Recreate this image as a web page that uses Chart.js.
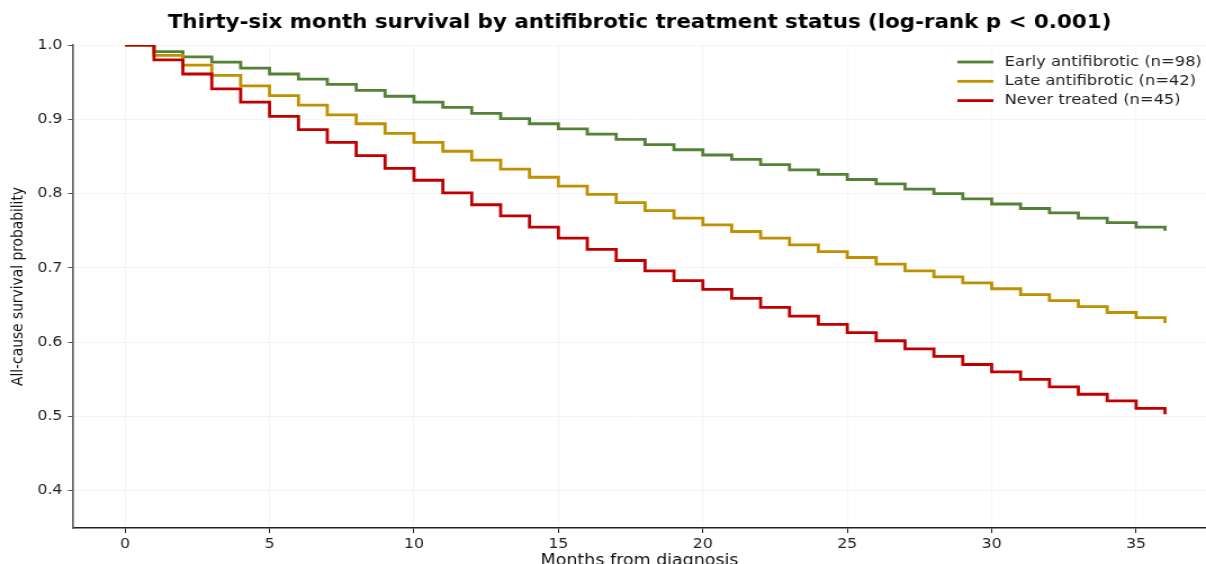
<!DOCTYPE html>
<html>
<head>
<meta charset="utf-8">
<script src="https://cdn.jsdelivr.net/npm/chart.js@4.4.1/dist/chart.umd.min.js"></script>
<style>
  html, body { margin: 0; padding: 0; background: #fff; overflow: hidden; }
  /* la figura original esta estirada en horizontal */
  #wrap { width: 1072px; height: 564px; transform: scaleX(1.125); transform-origin: 0 0; }
</style>
</head>
<body>
<div id="wrap"><canvas id="kmChart" width="1072" height="564"></canvas></div>
<script>
/* Datos */
const meses = [0, 1, 2, 3, 4, 5, 6, 7, 8, 9, 10, 11, 12, 13, 14, 15, 16, 17, 18,
  19, 20, 21, 22, 23, 24, 25, 26, 27, 28, 29, 30, 31, 32, 33, 34, 35, 36];

const earlyAntifibrotic = [1.000, 0.991, 0.984, 0.977, 0.969, 0.961, 0.954, 0.947, 0.939, 0.931,
  0.923, 0.916, 0.908, 0.901, 0.894, 0.887, 0.880, 0.873, 0.866, 0.859,
  0.852, 0.846, 0.839, 0.832, 0.826, 0.819, 0.813, 0.806, 0.800, 0.793,
  0.786, 0.780, 0.774, 0.767, 0.761, 0.755, 0.750];

const lateAntifibrotic = [1.000, 0.986, 0.973, 0.959, 0.945, 0.932, 0.919, 0.906, 0.894, 0.881,
  0.869, 0.857, 0.845, 0.833, 0.822, 0.810, 0.799, 0.788, 0.777, 0.767,
  0.758, 0.749, 0.740, 0.731, 0.722, 0.714, 0.705, 0.696, 0.688, 0.680,
  0.672, 0.664, 0.656, 0.648, 0.640, 0.633, 0.626];

const neverTreated = [1.000, 0.980, 0.961, 0.941, 0.923, 0.904, 0.886, 0.869, 0.851, 0.834,
  0.818, 0.801, 0.785, 0.770, 0.755, 0.740, 0.725, 0.710, 0.696, 0.683,
  0.671, 0.659, 0.647, 0.635, 0.624, 0.613, 0.602, 0.591, 0.581, 0.570,
  0.560, 0.550, 0.540, 0.530, 0.521, 0.511, 0.503];

const etiquetas = ['Early antifibrotic (n=98)', 'Late antifibrotic (n=42)', 'Never treated (n=45)'];
const colores = ['#538135', '#BF9000', '#C00000'];
const xTicks = [0, 5, 10, 15, 20, 25, 30, 35];
const yTicks = [0.4, 0.5, 0.6, 0.7, 0.8, 0.9, 1.0];

const FONT = "'DejaVu Sans', sans-serif";

function puntos(valores) {
  return meses.map((m, i) => ({ x: m, y: valores[i] }));
}

/* Leyenda dibujada a mano dentro del area */
const leyendaPlugin = {
  id: 'leyendaKM',
  afterDraw(chart) {
    const ctx = chart.ctx;
    ctx.save();
    ctx.font = '14.5px ' + FONT;
    ctx.textBaseline = 'middle';
    ctx.textAlign = 'left';
    chart.data.datasets.forEach((ds, i) => {
      const y = 62 + i * 19.3;
      ctx.strokeStyle = ds.borderColor;
      ctx.lineWidth = 2.8;
      ctx.beginPath();
      ctx.moveTo(851, y);
      ctx.lineTo(883, y);
      ctx.stroke();
      ctx.fillStyle = '#222';
      ctx.fillText(ds.label, 893, y);
    });
    ctx.restore();
  }
};

const datasets = [earlyAntifibrotic, lateAntifibrotic, neverTreated].map((serie, i) => ({
  label: etiquetas[i],
  data: puntos(serie),
  borderColor: colores[i],
  backgroundColor: colores[i],
  borderWidth: 2.8,
  stepped: true,
  pointRadius: 0,
  fill: false,
  order: 2 - i
}));

const config = {
  type: 'line',
  data: { datasets },
  options: {
    responsive: false,
    animation: false,
    events: [],
    layout: { padding: 0 },
    plugins: {
      legend: { display: false },
      tooltip: { enabled: false },
      title: {
        display: true,
        fullSize: false,
        text: 'Thirty-six month survival by antifibrotic treatment status (log-rank p < 0.001)',
        color: '#000',
        font: { family: FONT, size: 19, weight: 'bold', lineHeight: 1.2 },
        padding: { top: 11.6, bottom: 10.6 }
      }
    },
    scales: {
      x: {
        type: 'linear',
        min: -1.8,
        max: 37.42,
        afterBuildTicks: (scale) => { scale.ticks = xTicks.map(v => ({ value: v })); },
        afterFit: (scale) => { scale.height = 36; },
        ticks: {
          color: '#222',
          font: { family: FONT, size: 14 },
          padding: 3,
          maxRotation: 0,
          callback: (v) => String(v)
        },
        grid: {
          color: 'rgba(0,0,0,0.06)',
          lineWidth: 0.8,
          borderDash: [2, 2],
          tickColor: '#222',
          tickLength: 5,
          tickWidth: 1
        },
        border: { display: true, color: '#222', width: 1.5 },
        title: {
          display: true,
          text: 'Months from diagnosis',
          color: '#111',
          font: { family: FONT, size: 15.5, lineHeight: 0.4 },
          padding: { top: 0, bottom: 0 }
        }
      },
      y: {
        type: 'linear',
        min: 0.35,
        max: 1.0,
        afterBuildTicks: (scale) => { scale.ticks = yTicks.map(v => ({ value: v })); },
        afterFit: (scale) => { scale.width = 65; },
        ticks: {
          color: '#222',
          font: { family: FONT, size: 14 },
          padding: 5,
          callback: (v) => v.toFixed(1)
        },
        grid: {
          color: 'rgba(0,0,0,0.06)',
          lineWidth: 0.8,
          borderDash: [2, 2],
          tickColor: '#555',
          tickLength: 4.5,
          tickWidth: 1
        },
        border: { display: true, color: '#666', width: 1.7 },
        title: {
          display: true,
          text: 'All-cause survival probability',
          color: '#111',
          font: { family: FONT, size: 13.8, lineHeight: 1.2 },
          padding: { top: 7.7, bottom: 0 }
        }
      }
    }
  },
  plugins: [leyendaPlugin]
};

const ctx = document.getElementById('kmChart').getContext('2d');
new Chart(ctx, config);
</script>
</body>
</html>
